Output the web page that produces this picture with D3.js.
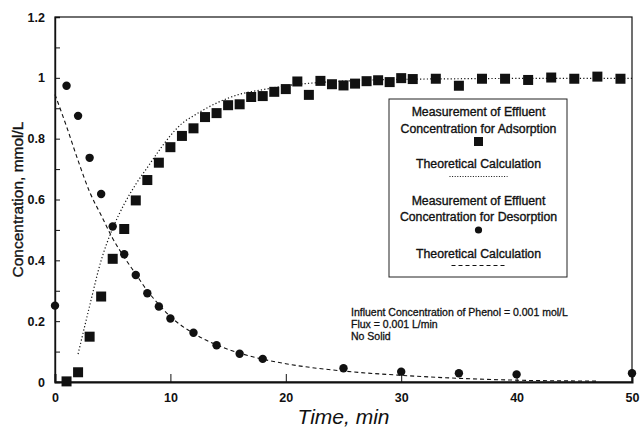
<!DOCTYPE html>
<meta charset="utf-8">
<style>
  body { margin: 0; background: #fff; }
  svg text { font-family: "Liberation Sans", Arial, sans-serif; fill: #111; }
  .axis text { font-size: 12.5px; font-weight: bold; }
  .axis path, .axis line { stroke: #111; }
  .legend text { font-size: 12.3px; text-anchor: middle; stroke: #111; stroke-width: 0.35; }
  .note text { font-size: 10.5px; stroke: #111; stroke-width: 0.3; }
  .title { stroke: #111; stroke-width: 0.35; }
</style>
<body>
<svg width="640" height="428"></svg>

<script src="https://cdn.jsdelivr.net/npm/d3@7"></script>
<script>

// measured effluent concentration, adsorption run (squares)
var adsTime = [1, 2, 3, 4, 5, 6, 7, 8, 9, 10, 11, 12, 13, 14, 15, 16, 17, 18, 19, 20,
               21, 22, 23, 24, 25, 26, 27, 28, 29, 30, 31, 33, 35, 37, 39, 41, 43, 45, 47, 49];
var adsConc = [0.002, 0.032, 0.149, 0.281, 0.405, 0.503, 0.597, 0.664, 0.721, 0.772,
               0.809, 0.834, 0.871, 0.884, 0.910, 0.913, 0.937, 0.940, 0.954, 0.963,
               0.988, 0.944, 0.990, 0.979, 0.975, 0.981, 0.989, 0.992, 0.986, 0.999,
               0.996, 0.997, 0.974, 0.997, 0.997, 0.993, 1.001, 0.997, 1.004, 0.997];

// measured effluent concentration, desorption run (circles)
var desTime = [0, 1, 2, 3, 4, 5, 6, 7, 8, 9, 10, 12, 14, 16, 18, 25, 30, 35, 40, 50];
var desConc = [0.251, 0.974, 0.875, 0.737, 0.618, 0.511, 0.420, 0.352, 0.292, 0.248,
               0.209, 0.162, 0.121, 0.093, 0.076, 0.045, 0.034, 0.029, 0.025, 0.029];

// theoretical curves
var adsFitTime = [2, 3, 4, 5, 6, 7, 8, 9, 10, 11, 12, 14, 16, 18, 20, 23, 26, 30, 35, 40, 50];
var adsFitConc = [0.092, 0.25, 0.40, 0.505, 0.585, 0.65, 0.705, 0.76, 0.81, 0.85, 0.875,
                  0.917, 0.946, 0.961, 0.974, 0.985, 0.991, 0.995, 0.997, 0.998, 0.998];

var desFitTime = [0, 1, 2, 3, 4, 5, 6, 7, 8, 9, 10, 12, 14, 16, 18, 20, 25, 30, 35, 40, 47];
var desFitConc = [0.945, 0.84, 0.728, 0.625, 0.548, 0.472, 0.41, 0.355, 0.30, 0.255, 0.215,
                  0.16, 0.122, 0.095, 0.075, 0.06, 0.036, 0.022, 0.012, 0.006, 0.003];

var xTicks = [0, 10, 20, 30, 40, 50];
var yTicks = [0, 0.1, 0.2, 0.3, 0.4, 0.5, 0.6, 0.7, 0.8, 0.9, 1, 1.1, 1.2];
var yLabels = ["0", "", "0.2", "", "0.4", "", "0.6", "", "0.8", "", "1", "", "1.2"];

var legendLines = ["Measurement of Effluent", "Concentration for Adsorption",
                   "Theoretical Calculation",
                   "Measurement of Effluent", "Concentration for Desorption",
                   "Theoretical Calculation"];
var noteLines = ["Influent Concentration of Phenol = 0.001 mol/L",
                 "Flux = 0.001 L/min",
                 "No Solid"];

var svg = d3.select("svg");
var margin = {top: 17, bottom: 46, left: 55, right: 8};
var width = 640 - margin.left - margin.right;
var height = 428 - margin.top - margin.bottom;

var x = d3.scaleLinear().domain([0, 50]).range([0, width]);
var y = d3.scaleLinear().domain([0, 1.2]).range([height, 0]);

var g = svg.append("g")
    .attr("transform", "translate(" + margin.left + "," + margin.top + ")");

// frame
g.append("rect")
    .attr("width", width).attr("height", height)
    .attr("fill", "none").attr("stroke", "#111").attr("stroke-width", 1.2);

// axes, ticks pointing inward
var xAxis = d3.axisBottom(x).tickValues(xTicks).tickSize(-8).tickPadding(11)
    .tickFormat(d3.format("d"));
var yAxis = d3.axisLeft(y).tickValues(yTicks).tickSize(-5).tickPadding(10)
    .tickFormat(function(d, i) { return yLabels[i]; });

g.append("g")
    .attr("class", "axis x--axis")
    .attr("transform", "translate(0," + height + ")")
    .call(xAxis)
    .call(function(a) { a.select(".domain").attr("stroke", "#444").attr("stroke-width", 2); });

g.append("g")
    .attr("class", "axis y--axis")
    .call(yAxis)
    .call(function(a) { a.select(".domain").attr("stroke-width", 1.4); });

// theoretical lines
var line = d3.line().curve(d3.curveMonotoneX)
    .x(function(d) { return x(d[0]); })
    .y(function(d) { return y(d[1]); });

g.append("path")
    .datum(d3.zip(adsFitTime, adsFitConc))
    .attr("d", line)
    .attr("fill", "none").attr("stroke", "#111")
    .attr("stroke-width", 1.2).attr("stroke-dasharray", "1.2,2.2");

g.append("path")
    .datum(d3.zip(desFitTime, desFitConc))
    .attr("d", line)
    .attr("fill", "none").attr("stroke", "#111")
    .attr("stroke-width", 1.1).attr("stroke-dasharray", "4,3");

// measurements
var sq = 10;
g.selectAll(".ads")
    .data(d3.zip(adsTime, adsConc))
    .enter().append("rect")
    .attr("class", "ads")
    .attr("x", function(d) { return x(d[0]) - sq / 2; })
    .attr("y", function(d) { return y(d[1]) - sq / 2; })
    .attr("width", sq).attr("height", sq)
    .attr("fill", "#111");

g.selectAll(".des")
    .data(d3.zip(desTime, desConc))
    .enter().append("circle")
    .attr("class", "des")
    .attr("cx", function(d) { return x(d[0]); })
    .attr("cy", function(d) { return y(d[1]); })
    .attr("r", 4.2)
    .attr("fill", "#111");

// axis titles
svg.append("text")
    .attr("class", "title")
    .attr("transform", "translate(23," + (margin.top + y(0.6)) + ") rotate(-90)")
    .attr("text-anchor", "middle")
    .style("font-size", "15.5px")
    .text("Concentration,  mmol/L");

svg.append("text")
    .attr("x", margin.left + width / 2).attr("y", 424)
    .attr("text-anchor", "middle")
    .style("font-size", "21px").style("font-style", "italic")
    .text("Time,  min");

// legend
var legend = svg.append("g").attr("class", "legend")
    .attr("transform", "translate(389,99)");
var lw = 178, cx = lw / 2 + 0.5;

legend.append("rect")
    .attr("width", lw).attr("height", 178)
    .attr("fill", "#fff").attr("stroke", "#222").attr("stroke-width", 1);

var textY = [17, 33.5, 69, 106, 122, 158.5];
legend.selectAll("text")
    .data(legendLines)
    .enter().append("text")
    .attr("x", cx)
    .attr("y", function(d, i) { return textY[i]; })
    .text(function(d) { return d; });

legend.append("rect")
    .attr("x", cx - 4.5).attr("y", 38).attr("width", 9).attr("height", 9)
    .attr("fill", "#111");
legend.append("line")
    .attr("x1", cx - 29).attr("x2", cx + 29).attr("y1", 77.5).attr("y2", 77.5)
    .attr("stroke", "#111").attr("stroke-width", 1).attr("stroke-dasharray", "1,1.6");
legend.append("circle")
    .attr("cx", cx).attr("cy", 131).attr("r", 3.6).attr("fill", "#111");
legend.append("line")
    .attr("x1", cx - 27).attr("x2", cx + 27).attr("y1", 166.5).attr("y2", 166.5)
    .attr("stroke", "#111").attr("stroke-width", 1).attr("stroke-dasharray", "4,3");

// run conditions
var note = svg.append("g").attr("class", "note")
    .attr("transform", "translate(351,316)");
note.selectAll("text")
    .data(noteLines)
    .enter().append("text")
    .attr("y", function(d, i) { return i * 12; })
    .text(function(d) { return d; });

</script>
</body>
